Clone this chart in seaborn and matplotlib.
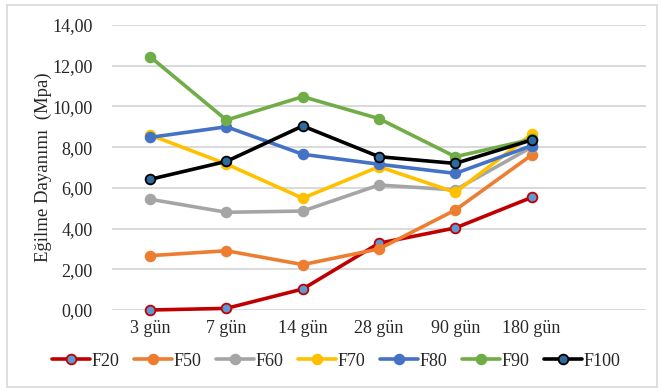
import matplotlib
matplotlib.use("Agg")
import matplotlib.pyplot as plt
from matplotlib.patches import Rectangle
from matplotlib.ticker import FuncFormatter
import seaborn as sns
import pandas as pd

# Curing ages and flexural strength (MPa) per mix
ages = ["3 gün", "7 gün", "14 gün", "28 gün", "90 gün", "180 gün"]
f20 = [0.00, 0.08, 1.03, 3.28, 4.03, 5.53]
f50 = [2.67, 2.91, 2.23, 3.00, 4.91, 7.61]
f60 = [5.44, 4.80, 4.86, 6.14, 5.90, 8.00]
f70 = [8.60, 7.17, 5.49, 7.04, 5.78, 8.63]
f80 = [8.48, 9.00, 7.65, 7.16, 6.71, 8.07]
f90 = [12.44, 9.33, 10.48, 9.40, 7.53, 8.38]
f100 = [6.42, 7.30, 9.04, 7.53, 7.20, 8.35]
series_names = ["F20", "F50", "F60", "F70", "F80", "F90", "F100"]
series_values = [f20, f50, f60, f70, f80, f90, f100]

line_colors = ["#C00000", "#ED7D31", "#A5A5A5", "#FFC000", "#4472C4", "#70AD47", "#000000"]
face_colors = ["#5B9BD5", "#ED7D31", "#A5A5A5", "#FFC000", "#4472C4", "#70AD47", "#2E6A9E"]

sns.set_theme(style="white")
plt.rcParams["font.family"] = ["Liberation Serif", "DejaVu Serif"]

fig = plt.figure(figsize=(6.62, 3.90), dpi=100)
ax = fig.add_axes([112 / 662, 1 - 310 / 390, (646 - 112) / 662, (310 - 25) / 390])

for name, vals, lc, fc in zip(series_names, series_values, line_colors, face_colors):
    df = pd.DataFrame({"age": ages, "value": vals})
    sns.lineplot(data=df, x="age", y="value", ax=ax, color=lc, linewidth=2.6,
                 marker="o", markersize=7, markerfacecolor=fc,
                 markeredgecolor=lc, markeredgewidth=1.3, label=name,
                 sort=False, clip_on=False)

ax.set_xlim(-0.5, 6.5)
ax.set_ylim(0, 14)
ax.set_yticks(range(0, 15, 2))
ax.yaxis.set_major_formatter(FuncFormatter(lambda v, p: f"{v:.2f}".replace(".", ",")))
ax.grid(axis="y", color="#D9D9D9", linewidth=1.4)
ax.grid(axis="x", visible=False)
ax.set_axisbelow(True)
for s in ax.spines.values():
    s.set_visible(False)
ax.tick_params(axis="both", length=0, labelsize=13, labelcolor="#262626", pad=7)
ax.tick_params(axis="y", pad=14)
ax.set_xlabel("")
ax.set_ylabel("Eğilme Dayanımı  (Mpa)", fontsize=13.5, color="#262626", labelpad=0)

leg = ax.legend(loc="center", bbox_to_anchor=(336 / 662, 1 - 361 / 390),
                bbox_transform=fig.transFigure, ncol=7, frameon=False,
                fontsize=13, handlelength=2.1, handletextpad=0.1,
                columnspacing=0.8)
for t in leg.get_texts():
    t.set_color("#262626")

fig.patches.append(Rectangle((7 / 662, 3 / 390), 650 / 662, 382 / 390,
                             transform=fig.transFigure, fill=False,
                             edgecolor="#D9D9D9", linewidth=1.2))

fig.savefig("out.png", dpi=100)
